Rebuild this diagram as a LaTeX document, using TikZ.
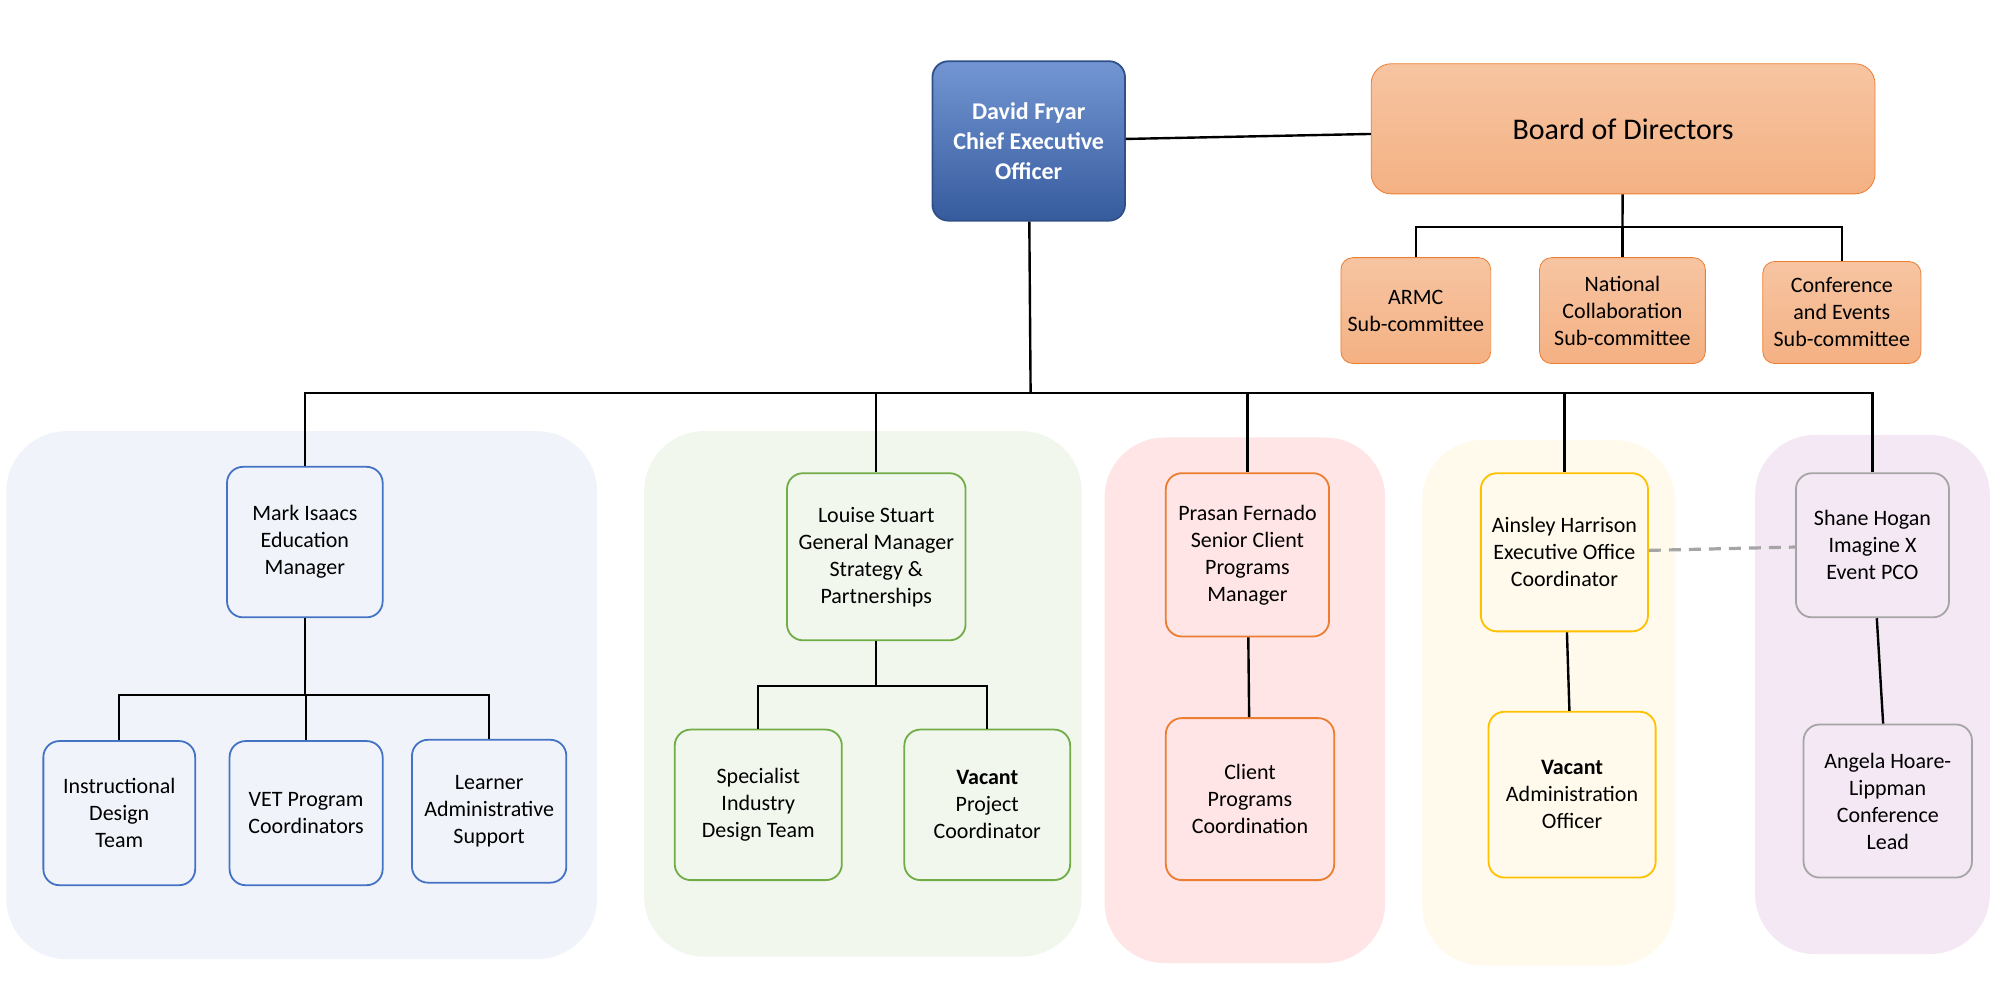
\documentclass[tikz,border=0pt]{standalone}
\usepackage{fontspec}
\setmainfont{Carlito}
\usetikzlibrary{positioning}
\definecolor{bluebd}{HTML}{4472C4}
\definecolor{greenbd}{HTML}{70AD47}
\definecolor{orangebd}{HTML}{ED7D31}
\definecolor{goldbd}{HTML}{FFC000}
\definecolor{greybd}{HTML}{A5A5A5}
\definecolor{salmon}{HTML}{F4B183}
\tikzset{
	box/.style={draw, line width=0.9pt, rounded corners=8pt, fill=none, align=center, font=\fontsize{11}{13.5}\selectfont, inner sep=2pt},
	sub/.style={draw=orangebd, rounded corners=6pt, top color=salmon!75, bottom color=salmon, align=center, font=\fontsize{11}{13.5}\selectfont},
	panel/.style={rounded corners=30pt, draw=none},
	link/.style={line width=1.2pt}
}
\begin{document}
\begin{tikzpicture}[x=0.638pt, y=-0.638pt]
	\useasboundingbox (0,0) rectangle (1568,775);

	% group backgrounds
	\fill[panel, fill=bluebd!8] (5,338) rectangle (468,752);
	\fill[panel, fill=greenbd!10] (505,338) rectangle (848,750);
	\fill[panel, fill=red!10] (866,343) rectangle (1086,755);
	\fill[panel, fill=goldbd!8] (1115,345) rectangle (1313,757);
	\fill[panel, fill=violet!9] (1376,341) rectangle (1560,748);

	% top level
	\node[box, draw=bluebd!70!black, top color=bluebd!75, bottom color=bluebd!80!black, text=white, font=\bfseries\fontsize{12}{15}\selectfont, minimum width=151*0.638pt, minimum height=125*0.638pt] (ceo) at (806.5,110.5) {David Fryar\\Chief Executive\\Officer};
	\node[sub, rounded corners=10pt, minimum width=395*0.638pt, minimum height=102*0.638pt, font=\fontsize{15}{18}\selectfont] (board) at (1272.5,101) {Board of Directors};

	\node[sub, minimum width=116*0.638pt, minimum height=83*0.638pt] (armc) at (1110,243.5) {ARMC\\Sub-committee};
	\node[sub, minimum width=130*0.638pt, minimum height=83*0.638pt] (natl) at (1272,243.5) {National\\Collaboration\\Sub-committee};
	\node[sub, minimum width=124*0.638pt, minimum height=80*0.638pt] (conf) at (1444,245) {Conference\\and Events\\Sub-committee};

	% managers
	\node[box, draw=bluebd, minimum width=122*0.638pt, minimum height=118*0.638pt] (mark) at (239,425) {Mark Isaacs\\Education\\Manager};
	\node[box, draw=greenbd, minimum width=140*0.638pt, minimum height=131*0.638pt] (louise) at (687,436.5) {Louise Stuart\\General Manager\\Strategy \&\\Partnerships};
	\node[box, draw=orangebd, minimum width=128*0.638pt, minimum height=128*0.638pt] (prasan) at (978,435) {Prasan Fernado\\Senior Client\\Programs\\Manager};
	\node[box, draw=goldbd, minimum width=131*0.638pt, minimum height=124*0.638pt] (ainsley) at (1226.5,433) {Ainsley Harrison\\Executive Office\\Coordinator};
	\node[box, draw=greybd, minimum width=120*0.638pt, minimum height=113*0.638pt] (shane) at (1468,427.5) {Shane Hogan\\Imagine X\\Event PCO};

	% teams
	\node[box, draw=bluebd, minimum width=119*0.638pt, minimum height=113*0.638pt] (instr) at (93.5,637.5) {Instructional\\Design\\Team};
	\node[box, draw=bluebd, minimum width=120*0.638pt, minimum height=113*0.638pt] (vet) at (240,637.5) {VET Program\\Coordinators};
	\node[box, draw=bluebd, minimum width=121*0.638pt, minimum height=112*0.638pt] (learn) at (383.5,636) {Learner\\Administrative\\Support};
	\node[box, draw=greenbd, minimum width=131*0.638pt, minimum height=118*0.638pt] (spec) at (594.5,631) {Specialist\\Industry\\Design Team};
	\node[box, draw=greenbd, minimum width=130*0.638pt, minimum height=118*0.638pt] (vacpc) at (774,631) {\textbf{Vacant}\\Project\\Coordinator};
	\node[box, draw=orangebd, minimum width=132*0.638pt, minimum height=127*0.638pt] (client) at (980,626.5) {Client\\Programs\\Coordination};
	\node[box, draw=goldbd, minimum width=131*0.638pt, minimum height=130*0.638pt] (vacao) at (1232.5,623) {\textbf{Vacant}\\Administration\\Officer};
	\node[box, draw=greybd, minimum width=132*0.638pt, minimum height=120*0.638pt] (angela) at (1480,628) {Angela Hoare-\\Lippman\\Conference\\Lead};

	% junction points
	\coordinate (bus) at (808,308);
	\coordinate (subbus) at (1272,178);
	\coordinate (markbus) at (239,545);
	\coordinate (louisebus) at (687,538);

	% connectors
	\draw[link] (ceo) -- (board);
	\draw[link] (board) -- (subbus);
	\draw[link] (armc.north) |- (subbus) -| (conf.north);
	\draw[link] (subbus) -- (natl);
	\draw[link] (ceo) -- (bus);
	\draw[link] (mark.north) |- (bus) -| (shane.north);
	\draw[link] (louise.north) -- (louise.north |- bus);
	\draw[link] (prasan.north) -- (prasan.north |- bus);
	\draw[link] (ainsley.north) -- (ainsley.north |- bus);
	\draw[link] (mark) -- (markbus);
	\draw[link] (instr.north) |- (markbus) -| (learn.north);
	\draw[link] (vet.north) -- (vet.north |- markbus);
	\draw[link] (louise) -- (louisebus);
	\draw[link] (spec.north) |- (louisebus) -| (vacpc.north);
	\draw[link] (prasan) -- (client);
	\draw[link] (ainsley) -- (vacao);
	\draw[link] (shane) -- (angela);
	\draw[line width=1.6pt, greybd, dashed, dash pattern=on 6pt off 4pt] (ainsley) -- (shane);
\end{tikzpicture}
\end{document}
